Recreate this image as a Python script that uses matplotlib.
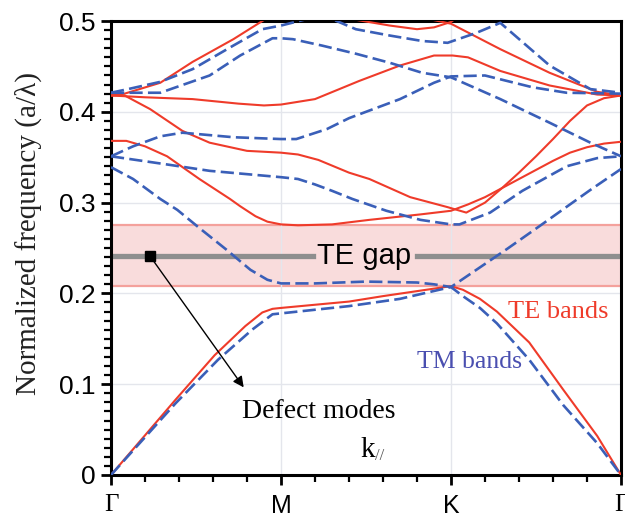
import matplotlib
matplotlib.use('Agg')
import matplotlib.pyplot as plt
from matplotlib.ticker import MultipleLocator

# k-path positions: Gamma=0, M=1, K=2, Gamma=3
kpath_ticks = [0, 1, 2, 3]
kpath_labels = ['Γ', 'M', 'K', 'Γ']

# TE bands (red, solid)
te1_x = [0, 0.38, 0.61, 0.79, 0.89, 0.95, 1.0, 1.4, 1.6, 2.0, 2.07, 2.17, 2.27, 2.46, 2.66, 2.86, 3.0]
te1_y = [0, 0.083, 0.132, 0.164, 0.179, 0.183, 0.184, 0.191, 0.197, 0.208, 0.204, 0.194, 0.180, 0.146, 0.094, 0.043, 0]
te2_x = [0, 0.09, 0.2, 0.33, 0.52, 0.7, 0.76, 0.85, 0.92, 1.0, 1.1, 1.3, 1.52, 1.82, 2.0, 2.1, 2.2, 2.3, 2.4, 2.5, 2.6, 2.7, 2.8, 2.9, 3.0]
te2_y = [0.368, 0.368, 0.362, 0.351, 0.326, 0.304, 0.296, 0.285, 0.279, 0.276, 0.275, 0.276, 0.281, 0.287, 0.291, 0.298, 0.306, 0.316, 0.326, 0.336, 0.346, 0.355, 0.361, 0.365, 0.367]
te3_x = [0, 0.08, 0.23, 0.42, 0.58, 0.8, 1.0, 1.1, 1.22, 1.4, 1.52, 1.76, 1.98, 2.09, 2.2, 2.3, 2.4, 2.5, 2.6, 2.7, 2.8, 2.9, 3.0]
te3_y = [0.418, 0.418, 0.403, 0.379, 0.366, 0.357, 0.355, 0.353, 0.347, 0.333, 0.326, 0.306, 0.295, 0.289, 0.300, 0.316, 0.333, 0.351, 0.370, 0.390, 0.407, 0.415, 0.418]
te4_x = [0, 0.2, 0.48, 0.75, 0.9, 1.0, 1.2, 1.46, 1.7, 1.9, 2.01, 2.1, 2.29, 2.58, 2.86, 3.0]
te4_y = [0.418, 0.416, 0.414, 0.409, 0.407, 0.408, 0.414, 0.434, 0.451, 0.462, 0.462, 0.460, 0.445, 0.429, 0.419, 0.418]
te5_x = [0, 0.08, 0.29, 0.48, 0.72, 0.89, 1.0, 1.2, 1.42, 1.64, 1.8, 1.9, 2.0, 2.05]
te5_y = [0.418, 0.420, 0.432, 0.455, 0.480, 0.500, 0.512, 0.510, 0.502, 0.495, 0.491, 0.493, 0.499, 0.506]
te6_x = [1.75, 1.85, 2.0, 2.29, 2.58, 2.86, 3.0]
te6_y = [0.510, 0.503, 0.497, 0.469, 0.443, 0.422, 0.418]

# TM bands (blue, dashed)
tm1_x = [0, 0.38, 0.63, 0.83, 0.95, 1.0, 1.4, 1.7, 2.0, 2.07, 2.17, 2.27, 2.46, 2.66, 2.86, 3.0]
tm1_y = [0, 0.079, 0.127, 0.160, 0.177, 0.178, 0.186, 0.194, 0.207, 0.197, 0.184, 0.167, 0.127, 0.077, 0.035, 0]
tm2_x = [0, 0.13, 0.29, 0.39, 0.52, 0.68, 0.82, 0.92, 1.0, 1.2, 1.5, 1.8, 1.9, 2.0, 2.33, 2.52, 2.82, 3.0]
tm2_y = [0.339, 0.326, 0.304, 0.292, 0.272, 0.248, 0.226, 0.215, 0.211, 0.211, 0.213, 0.212, 0.210, 0.207, 0.249, 0.274, 0.314, 0.337]
tm3_x = [0, 0.33, 0.58, 0.82, 1.0, 1.1, 1.2, 1.3, 1.42, 1.62, 1.82, 2.0, 2.05, 2.23, 2.42, 2.68, 2.86, 3.0]
tm3_y = [0.351, 0.342, 0.335, 0.331, 0.328, 0.326, 0.320, 0.313, 0.304, 0.291, 0.281, 0.276, 0.276, 0.289, 0.313, 0.340, 0.349, 0.351]
tm4_x = [0, 0.13, 0.29, 0.42, 0.72, 1.0, 1.09, 1.27, 1.4, 1.7, 1.9, 2.0, 2.2, 2.48, 2.68, 3.0]
tm4_y = [0.351, 0.362, 0.373, 0.377, 0.372, 0.370, 0.370, 0.381, 0.393, 0.414, 0.432, 0.439, 0.440, 0.427, 0.421, 0.420]
tm5_x = [0, 0.29, 0.58, 0.76, 0.95, 1.0, 1.07, 1.24, 1.44, 1.64, 1.83, 2.0, 2.29, 2.58, 2.82, 3.0]
tm5_y = [0.421, 0.421, 0.440, 0.462, 0.481, 0.481, 0.480, 0.473, 0.464, 0.454, 0.443, 0.438, 0.414, 0.388, 0.366, 0.351]
tm6_x = [0, 0.1, 0.29, 0.48, 0.72, 0.89, 1.0, 1.17, 1.29, 1.44, 1.64, 1.83, 1.98, 2.15, 2.29, 2.58, 2.82, 3.0]
tm6_y = [0.421, 0.425, 0.433, 0.447, 0.473, 0.491, 0.495, 0.503, 0.503, 0.491, 0.484, 0.478, 0.476, 0.487, 0.498, 0.451, 0.425, 0.421]

# TE gap and defect mode
gap_lo, gap_hi = 0.208, 0.275
defect_f = 0.241

red = '#ef3b2a'
blue = '#3a5fb8'

fig = plt.figure(figsize=(6.25, 5.19), dpi=100)
ax = fig.add_axes([0.1776, 0.0848, 0.8160, 0.8747])

# gap shading
ax.axhspan(gap_lo, gap_hi, facecolor='#f9dcdc', edgecolor='none', zorder=0)
ax.axhline(gap_lo, color='#f4a19c', lw=1.6, zorder=0.5)
ax.axhline(gap_hi, color='#f4a19c', lw=1.6, zorder=0.5)

# defect mode line with a break for the label
ax.plot([0, 1.19], [defect_f, defect_f], color='#8e8e8e', lw=3.8, zorder=1)
ax.plot([1.80, 3.0], [defect_f, defect_f], color='#8e8e8e', lw=3.8, zorder=1)
ax.text(1.49, defect_f, 'TE gap', ha='center', va='center', fontsize=21,
        family='Liberation Sans', zorder=5)

te = [(te1_x, te1_y), (te2_x, te2_y), (te3_x, te3_y), (te4_x, te4_y), (te5_x, te5_y), (te6_x, te6_y)]
tm = [(tm1_x, tm1_y), (tm2_x, tm2_y), (tm3_x, tm3_y), (tm4_x, tm4_y), (tm5_x, tm5_y), (tm6_x, tm6_y)]
for x, y in te:
    ax.plot(x, y, color=red, lw=1.5, zorder=3)
for x, y in tm:
    ax.plot(x, y, color=blue, lw=1.9, dashes=(5, 2), zorder=3)

# defect mode marker + arrow
ax.plot([0.23], [defect_f], marker='s', color='black', ms=7, zorder=6)
ax.annotate('', xy=(0.79, 0.094), xytext=(0.23, defect_f),
            arrowprops=dict(arrowstyle='-|>', color='black', lw=1, mutation_scale=16), zorder=6)
ax.text(1.22, 0.0695, 'Defect modes', ha='center', va='center', fontsize=20,
        family='Liberation Serif')
ax.text(1.47, 0.020, 'k', ha='left', va='baseline', fontsize=21, family='Liberation Serif')
ax.text(1.555, 0.017, '//', ha='left', va='baseline', fontsize=12, family='Liberation Serif',
        color='#555555')
ax.text(2.63, 0.179, 'TE bands', ha='center', va='center', fontsize=19,
        family='Liberation Serif', color=red)
ax.text(2.106, 0.124, 'TM bands', ha='center', va='center', fontsize=18.5,
        family='Liberation Serif', color='#4a4fb0')

ax.set_xlim(0, 3)
ax.set_ylim(0, 0.5)
ax.set_xticks(kpath_ticks)
ax.set_xticklabels(kpath_labels)
ax.xaxis.set_minor_locator(MultipleLocator(0.2))
ax.set_yticks([0, 0.1, 0.2, 0.3, 0.4, 0.5])
ax.set_yticklabels(['0', '0.1', '0.2', '0.3', '0.4', '0.5'])
ax.yaxis.set_minor_locator(MultipleLocator(0.01))

for lab in ax.get_yticklabels():
    lab.set_family('Liberation Sans')
    lab.set_fontsize(19)
for lab, name in zip(ax.get_xticklabels(), kpath_labels):
    lab.set_family('Liberation Serif' if name == 'Γ' else 'Liberation Sans')
    lab.set_fontsize(18)

ax.tick_params(axis='both', which='major', direction='out', length=7, width=2, color='black')
ax.tick_params(axis='both', which='minor', direction='out', length=5, width=1.6, color='black')
ax.tick_params(axis='x', which='major', pad=7)
ax.tick_params(axis='y', which='major', pad=4)

ax.grid(True, which='major', color='#e4e6ec', lw=1)
ax.set_axisbelow(True)
for s in ax.spines.values():
    s.set_linewidth(2.2)
    s.set_color('black')

fig.text(0.045, 0.55, 'Normalized frequency (a/λ)', rotation=90, ha='center', va='center',
         fontsize=21, family='Liberation Serif', color='#222222')

fig.savefig('out.png', dpi=100)
